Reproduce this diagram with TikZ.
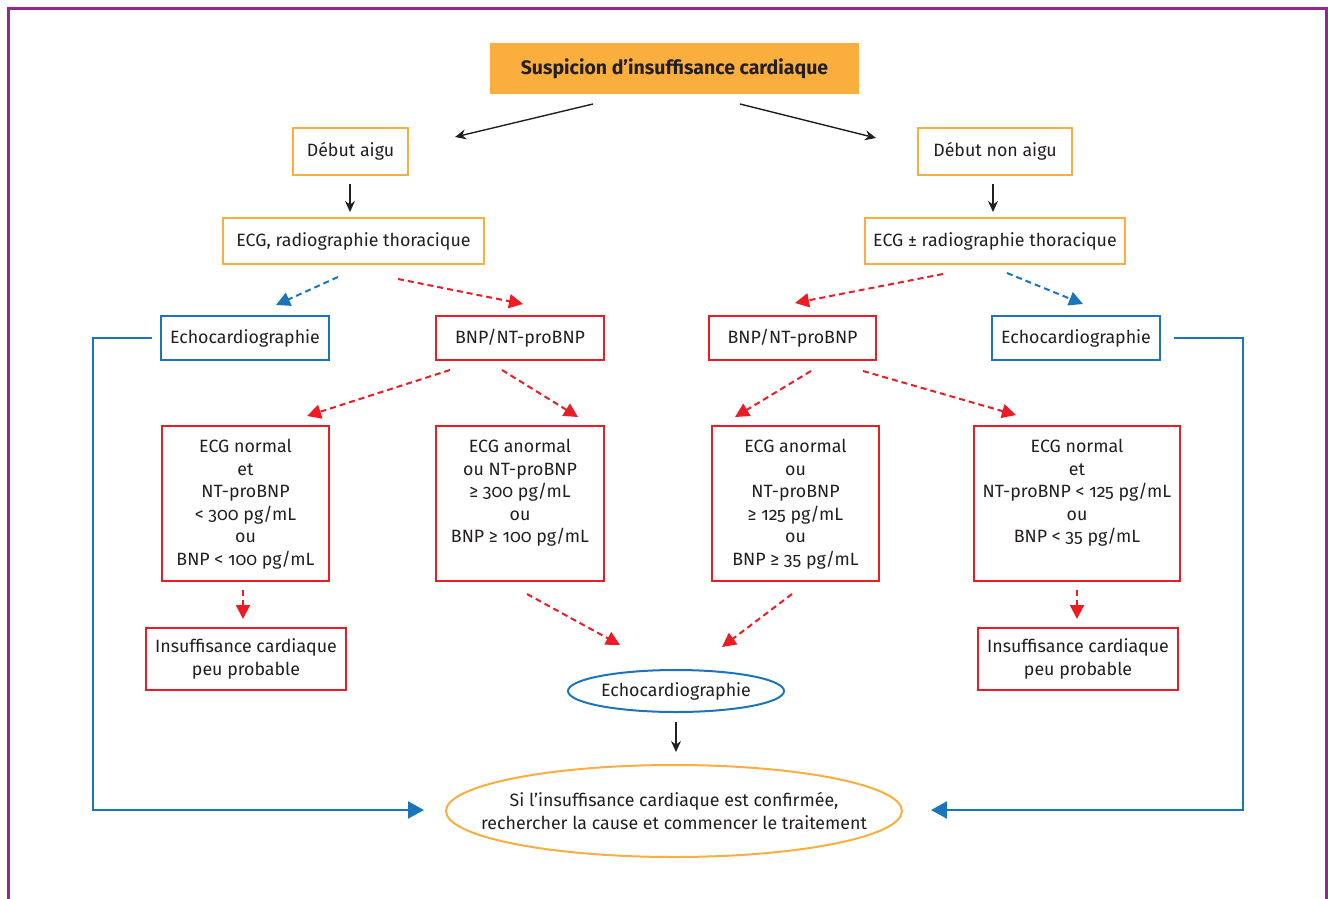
\documentclass[tikz,border=0pt]{standalone}
\usepackage{fontspec}
\setmainfont[Numbers=OldStyle]{Fira Sans}
\usetikzlibrary{shapes.geometric,arrows.meta,calc}
\definecolor{txt}{HTML}{231F20}
\definecolor{orng}{HTML}{F9AE3D}
\definecolor{blu}{HTML}{1B75BB}
\definecolor{rd}{HTML}{ED1C24}
\definecolor{purp}{HTML}{92278F}
\tikzset{
  box/.style={draw, line width=2pt, inner sep=0pt, align=center, text=txt, font=\fontsize{17.8}{22.5}\selectfont},
  obox/.style={box, draw=orng},
  bbox/.style={box, draw=blu},
  rbox/.style={box, draw=rd},
  inner/.style={inner sep=0pt, align=center, text=txt, font=\fontsize{17.8}{22.5}\selectfont},
  barr/.style={txt, line width=1.4pt, -{Stealth[length=11pt,width=10pt]}},
  rdash/.style={rd, line width=2pt, dash pattern=on 6pt off 4pt, -{Triangle[length=14pt,width=14pt]}},
  bdash/.style={blu, line width=2pt, dash pattern=on 6pt off 4pt, -{Triangle[length=14pt,width=14pt]}},
  bline/.style={blu, line width=2.2pt, -{Triangle[length=16pt,width=17pt]}},
}
\begin{document}
\begin{tikzpicture}[x=1pt,y=-1pt]
\useasboundingbox (0,0) rectangle (1328,898);
\draw[purp, line width=3pt] (8,900) -- (8,8) -- (1326,8) -- (1326,900);

\node[box, draw=orng, fill=orng, minimum width=367, minimum height=49, font=\fontsize{19.5}{22}\selectfont\bfseries] (top) at (674.5,68.5) {Suspicion d’insuffisance cardiaque};

\node[obox, minimum width=115, minimum height=47] (da) at (350.5,151.5) {Début aigu};
\node[obox, minimum width=154, minimum height=47] (dn) at (995,151.5) {Début non aigu};
\node[obox, minimum width=261, minimum height=46] (ecgl) at (353.5,241) {ECG, radiographie thoracique};
\node[obox, minimum width=260, minimum height=46] (ecgr) at (995,241) {ECG ± radiographie thoracique};

\node[bbox, minimum width=168, minimum height=44] (ecl) at (245,338) {Echocardiographie};
\node[rbox, minimum width=168, minimum height=44] (bnpl) at (520,338) {BNP/NT-proBNP};
\node[rbox, minimum width=167, minimum height=44] (bnpr) at (792.5,338) {BNP/NT-proBNP};
\node[bbox, minimum width=168, minimum height=44] (ecr) at (1076,338) {Echocardiographie};

\node[rbox, minimum width=167, minimum height=155] (b1) at (245.5,503.5) {};
\node[rbox, minimum width=168, minimum height=155] (b2) at (520,503.5) {};
\node[rbox, minimum width=167, minimum height=155] (b3) at (795.5,503.5) {};
\node[rbox, minimum width=206, minimum height=155] (b4) at (1077,503.5) {};
\node[inner, anchor=north] (t1) at ($(b1.north)+(0,14)$) {ECG normal\\et\\NT-proBNP\\< 300 pg/mL\\ou\\BNP < 100 pg/mL};
\node[inner, anchor=north] (t2) at ($(b2.north)+(0,14)$) {ECG anormal\\ou NT-proBNP\\≥ 300 pg/mL\\ou\\BNP ≥ 100 pg/mL};
\node[inner, anchor=north] (t3) at ($(b3.north)+(0,14)$) {ECG anormal\\ou\\NT-proBNP\\≥ 125 pg/mL\\ou\\BNP ≥ 35 pg/mL};
\node[inner, anchor=north] (t4) at ($(b4.north)+(0,14)$) {ECG normal\\et\\NT-proBNP < 125 pg/mL\\ou\\BNP < 35 pg/mL};

\node[rbox, minimum width=200, minimum height=62] (il) at (246,659) {Insuffisance cardiaque\\peu probable};
\node[rbox, minimum width=200, minimum height=62] (ir) at (1078,659) {Insuffisance cardiaque\\peu probable};

\node[draw=blu, line width=2pt, ellipse, inner sep=0pt, minimum width=216, minimum height=42] (eco) at (676,691) {};
\node[inner] (ecot) at (eco.center) {Echocardiographie};
\node[draw=orng, line width=2pt, ellipse, inner sep=0pt, minimum width=456, minimum height=92] (fin) at (674,811) {};
\node[inner] (fint) at (fin.center) {Si l’insuffisance cardiaque est confirmée,\\rechercher la cause et commencer le traitement};

% black arrows
\draw[barr] ($(top.south)+(-81.5,10)$) -- ($(da.north)+(104.5,10)$);
\draw[barr] ($(top.south)+(65.5,10)$) -- ($(dn.north)+(-119,11)$);
\draw[barr] ($(da.south)+(-0.5,8)$) -- ($(ecgl.north)+(-3.5,-5)$);
\draw[barr] ($(dn.south)+(-2,8)$) -- ($(ecgr.north)+(-2,-5)$);
\draw[barr] ($(eco.south)+(0,9)$) -- ($(fin.north)+(2,-12)$);

% dashed
\draw[bdash] ($(ecgl.south)+(-15.5,12)$) -- ($(ecl.north)+(31,-10)$);
\draw[rdash] ($(ecgl.south)+(44.5,14)$) -- ($(bnpl.north)+(3,-11)$);
\draw[rdash] ($(ecgr.south)+(-52,9)$) -- ($(bnpr.north)+(2.5,-12)$);
\draw[bdash] ($(ecgr.south)+(12,8)$) -- ($(ecr.north)+(7,-11)$);

\draw[rdash] ($(bnpl.south)+(-70,9)$) -- ($(b1.north)+(61.5,-9)$);
\draw[rdash] ($(bnpl.south)+(-18,9)$) -- ($(b2.north)+(58,-8)$);
\draw[rdash] ($(bnpr.south)+(18.5,10)$) -- ($(b3.north)+(-60.5,-8)$);
\draw[rdash] ($(bnpr.south)+(70.5,10)$) -- ($(b4.north)+(-61,-10)$);

\draw[rdash] ($(b1.south)+(-2.5,8)$) -- ($(il.north)+(-3,-8)$);
\draw[rdash] ($(b4.south)+(0,8)$) -- ($(ir.north)+(-1,-8)$);
\draw[rdash] ($(b2.south)+(7,12)$) -- ($(eco.north)+(-56,-24)$);
\draw[rdash] ($(b3.south)+(-3.5,12)$) -- ($(eco.north)+(46,-22)$);

% blue solid
\coordinate (cl) at (93,810);
\coordinate (cr) at (1243,810);
\draw[bline] ($(ecl.west)+(-8,0)$) -| (cl) -- ($(fin.west)+(-21,-1)$);
\draw[bline] ($(ecr.east)+(13,0)$) -| (cr) -- ($(fin.east)+(28,-1)$);
\end{tikzpicture}
\end{document}
